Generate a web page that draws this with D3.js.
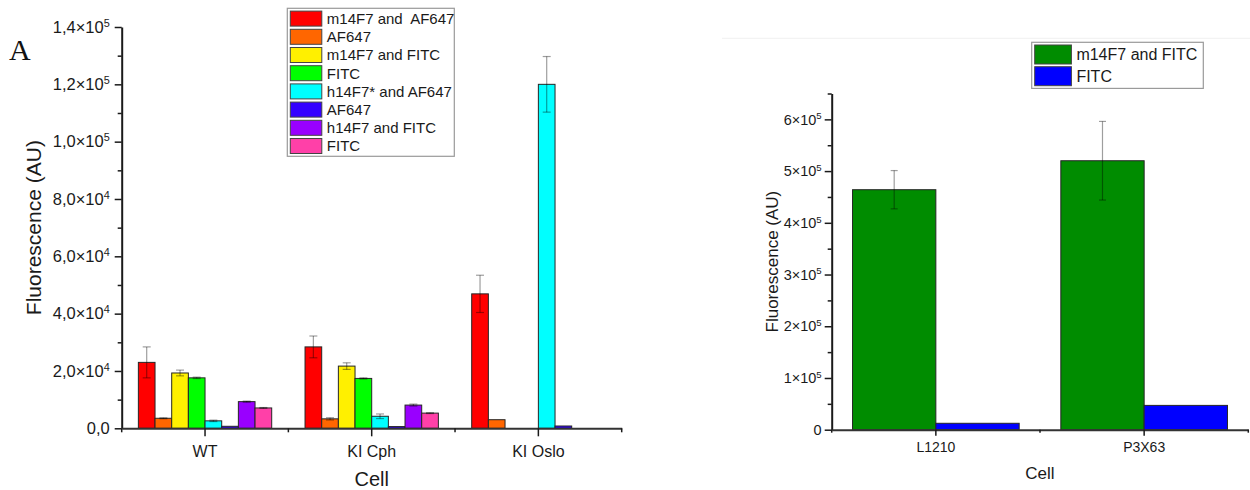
<!DOCTYPE html>
<html>
<head>
<meta charset="utf-8">
<script src="https://cdn.jsdelivr.net/npm/d3@7"></script>
<style>
  body { margin: 0; background: #fff; }
  svg { display: block; font-family: "Liberation Sans", Arial, sans-serif; }
</style>
</head>
<body>
<svg id="chart" width="1250" height="490"></svg>
<script>
// ---- Panel A: fluorescence per cell line, eight staining conditions ----
const cellsA = ["WT", "KI Cph", "KI Oslo"];
const seriesA = ["m14F7 and  AF647", "AF647", "m14F7 and FITC", "FITC",
                 "h14F7* and AF647", "AF647", "h14F7 and FITC", "FITC"];
const paletteA = ["#ff0000", "#ff6600", "#fff000", "#00ff00",
                  "#00ffff", "#3300ff", "#9900ff", "#ff40a8"];
// mean fluorescence, one row per condition, one column per cell line
const meansA = [
  [23000, 28400, 46900],
  [3500, 3300, 3000],
  [19300, 21700, 0],
  [17600, 17400, 0],
  [2600, 4200, 120000],
  [700, 600, 800],
  [9300, 8100, 0],
  [7100, 5300, 0]
];
const errorsA = [
  [5400, 3800, 6500],
  [150, 400, 0],
  [1000, 1150, 0],
  [250, 200, 0],
  [250, 800, 9700],
  [0, 0, 0],
  [200, 350, 0],
  [150, 150, 0]
];
const yTicksA = [0, 20000, 40000, 60000, 80000, 100000, 120000, 140000];

// ---- Right panel: two cell lines, two conditions ----
const cellsB = ["L1210", "P3X63"];
const seriesB = ["m14F7 and FITC", "FITC"];
const paletteB = ["#008c00", "#0000ff"];
const meansB = [
  [464000, 520000],
  [12400, 47000]
];
const errorsB = [
  [37000, 76000],
  [0, 0]
];
const yTicksB = [0, 100000, 200000, 300000, 400000, 500000, 600000];

const svg = d3.select("#chart");
const ink = "#1a1a1a";

// Tick label in "m×10^e" form with a raised exponent
function sciLabel(textSel, v, oneDecimal) {
  textSel.text(null);
  if (v === 0) { textSel.text(oneDecimal ? "0,0" : "0"); return; }
  const e = Math.floor(Math.log10(v) + 1e-9);
  const m = v / Math.pow(10, e);
  const mant = oneDecimal ? m.toFixed(1).replace(".", ",") : String(Math.round(m));
  textSel.append("tspan").text(mant + "×10");
  textSel.append("tspan").attr("font-size", "0.66em").attr("dy", "-0.55em").text(e);
}

function drawPanel(cfg) {
  const g = svg.append("g");
  const x = d3.scaleBand().domain(cfg.cells).range([cfg.x0, cfg.x1])
    .paddingInner(0.2).paddingOuter(0.1);
  const xs = d3.scaleBand().domain(d3.range(cfg.series.length)).range([0, x.bandwidth()]);
  const y = d3.scaleLinear().domain([0, cfg.yMax]).range([cfg.yBottom, cfg.yTop]);

  // bars
  cfg.series.forEach((name, si) => {
    const rows = cfg.cells.map((c, ci) => ({ c, v: cfg.means[si][ci], err: cfg.errors[si][ci] }))
      .filter(d => d.v > 0);
    g.selectAll(null).data(rows).enter().append("rect")
      .attr("x", d => x(d.c) + xs(si))
      .attr("y", d => y(d.v))
      .attr("width", xs.bandwidth())
      .attr("height", d => y(0) - y(d.v))
      .attr("fill", cfg.palette[si])
      .attr("stroke", "#262626")
      .attr("stroke-width", 1);
  });

  // error bars
  cfg.series.forEach((name, si) => {
    const rows = cfg.cells.map((c, ci) => ({ c, v: cfg.means[si][ci], err: cfg.errors[si][ci] }))
      .filter(d => d.v > 0 && d.err > 0);
    const eb = g.selectAll(null).data(rows).enter().append("g")
      .attr("stroke", "#000").attr("stroke-opacity", 0.38).attr("stroke-width", 1.2);
    const cx = d => x(d.c) + xs(si) + xs.bandwidth() / 2;
    eb.append("line").attr("x1", cx).attr("x2", cx)
      .attr("y1", d => y(d.v + d.err)).attr("y2", d => y(d.v - d.err));
    [1, -1].forEach(sgn => {
      eb.append("line")
        .attr("x1", d => cx(d) - cfg.cap).attr("x2", d => cx(d) + cfg.cap)
        .attr("y1", d => y(d.v + sgn * d.err)).attr("y2", d => y(d.v + sgn * d.err));
    });
  });

  // y axis: minor then major ticks
  const minorY = d3.range(0, cfg.yMax + 1, cfg.yStep / 2).filter(v => !cfg.yTicks.includes(v));
  g.append("g").attr("transform", `translate(${cfg.x0},0)`)
    .call(d3.axisLeft(y).tickValues(minorY).tickSize(4).tickSizeOuter(0).tickFormat(""))
    .call(s => s.select(".domain").remove())
    .call(s => s.selectAll("line").attr("stroke", ink).attr("stroke-width", 1.5));
  const ya = g.append("g").attr("transform", `translate(${cfg.x0},0)`)
    .call(d3.axisLeft(y).tickValues(cfg.yTicks).tickSize(7).tickSizeOuter(0).tickPadding(cfg.yPad));
  ya.select(".domain").attr("stroke", ink).attr("stroke-width", 2);
  ya.selectAll("line").attr("stroke", ink).attr("stroke-width", 1.5);
  ya.selectAll("text").attr("font-size", cfg.yTickFont).attr("fill", ink)
    .attr("font-family", "Liberation Sans, Arial, sans-serif")
    .each(function (v) { sciLabel(d3.select(this), v, cfg.oneDecimal); });

  // x axis: category ticks and boundary ticks
  const xa = g.append("g").attr("transform", `translate(0,${cfg.yBottom})`)
    .call(d3.axisBottom(x).tickSize(cfg.xTick).tickSizeOuter(0).tickPadding(cfg.xPad));
  xa.select(".domain").attr("stroke", "#333").attr("stroke-width", 2);
  xa.selectAll("line").attr("stroke", ink).attr("stroke-width", 1.5);
  xa.selectAll("text").attr("font-size", cfg.xTickFont).attr("fill", ink)
    .attr("font-family", "Liberation Sans, Arial, sans-serif");
  const bounds = cfg.cells.map(c => x(c) - x.step() * x.paddingInner() / 2)
    .concat([x(cfg.cells[cfg.cells.length - 1]) + x.bandwidth() + x.step() * x.paddingInner() / 2]);
  g.selectAll(null).data(bounds).enter().append("line")
    .attr("x1", d => d).attr("x2", d => d)
    .attr("y1", cfg.yBottom).attr("y2", cfg.yBottom + cfg.xTick / 2)
    .attr("stroke", ink).attr("stroke-width", 1.5);

  // axis titles
  g.append("text")
    .attr("x", (cfg.x0 + cfg.x1) / 2).attr("y", cfg.xTitleY)
    .attr("text-anchor", "middle").attr("font-size", cfg.xTitleFont).attr("fill", ink)
    .text("Cell");
  g.append("text")
    .attr("transform", `translate(${cfg.yTitleX},${(cfg.yTop + cfg.yBottom) / 2}) rotate(-90)`)
    .attr("text-anchor", "middle").attr("font-size", cfg.yTitleFont).attr("fill", ink)
    .text("Fluorescence (AU)");

  // legend
  const L = cfg.legend;
  g.append("rect").attr("x", L.x).attr("y", L.y).attr("width", L.w)
    .attr("height", L.pad * 2 + L.row * cfg.series.length - (L.row - L.sh))
    .attr("fill", "#fff").attr("stroke", "#9a9a9a").attr("stroke-width", 1.2);
  const items = g.selectAll(null).data(cfg.series).enter().append("g")
    .attr("transform", (d, i) => `translate(${L.x + 3},${L.y + L.pad + i * L.row})`);
  items.append("rect").attr("width", L.sw).attr("height", L.sh)
    .attr("fill", (d, i) => cfg.palette[i]).attr("stroke", "#444").attr("stroke-width", 1);
  items.append("text").attr("x", L.sw + 5).attr("y", L.sh / 2).attr("dy", "0.36em")
    .attr("font-size", L.font).attr("fill", ink).attr("xml:space", "preserve")
    .style("white-space", "pre").text(d => d);
}

drawPanel({
  cells: cellsA, series: seriesA, palette: paletteA, means: meansA, errors: errorsA,
  yTicks: yTicksA, yMax: 140000, yStep: 20000, oneDecimal: true,
  x0: 121.7, x1: 621.7, yTop: 27, yBottom: 428.3, cap: 4,
  yTickFont: 16.5, xTickFont: 16, yPad: 5, xTitleFont: 20, yTitleFont: 21,
  xTick: 8, xPad: 9, xTitleY: 486, yTitleX: 41,
  legend: { x: 287.3, y: 8.3, w: 167, pad: 2.8, row: 18.2, sw: 31.5, sh: 15, font: 15 }
});

drawPanel({
  cells: cellsB, series: seriesB, palette: paletteB, means: meansB, errors: errorsB,
  yTicks: yTicksB, yMax: 650000, yStep: 100000, oneDecimal: false,
  x0: 831.7, x1: 1248.3, yTop: 93.5, yBottom: 429.7, cap: 3.5,
  yTickFont: 14.5, xTickFont: 14, yPad: 3, xTitleFont: 17, yTitleFont: 17,
  xTick: 6, xPad: 6, xTitleY: 479, yTitleX: 778,
  legend: { x: 1031.7, y: 42.3, w: 171.6, pad: 2.7, row: 21.7, sw: 36.7, sh: 19, font: 16 }
});

// faint rule above the right panel
svg.append("line").attr("x1", 722).attr("x2", 1250).attr("y1", 38.3).attr("y2", 38.3)
  .attr("stroke", "#f0f0f0").attr("stroke-width", 1);

// panel letter
svg.append("text").attr("x", 9).attr("y", 60)
  .attr("font-family", "Liberation Serif, Times New Roman, serif")
  .attr("font-size", 30).attr("fill", "#111").text("A");
</script>
</body>
</html>
